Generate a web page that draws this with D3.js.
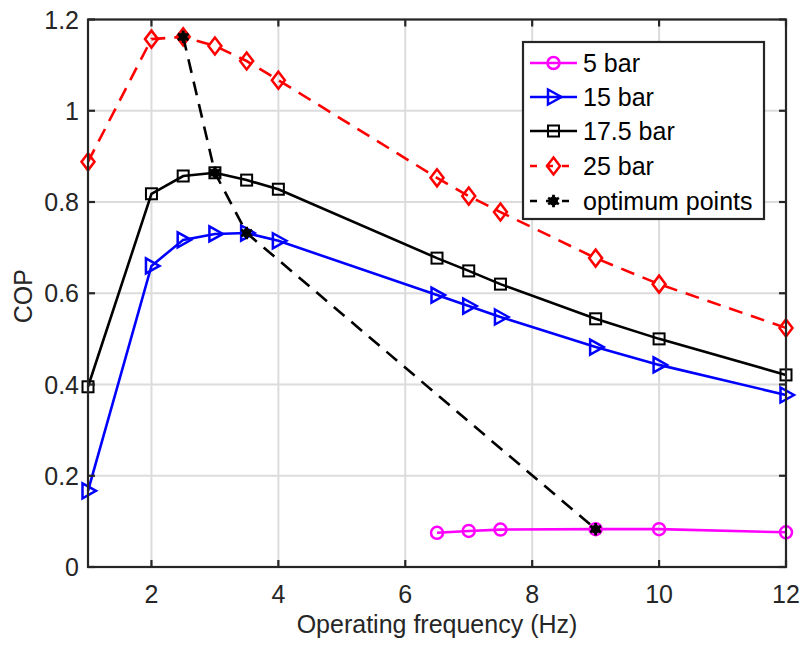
<!DOCTYPE html>
<html><head><meta charset="utf-8">
<script src="https://cdn.jsdelivr.net/npm/d3@7"></script>
<style>body{margin:0;background:#fff;} text{font-family:"Liberation Sans",Arial,sans-serif;}</style>
</head><body><svg id="c" width="803" height="646"></svg>
<script>
const freq = [1, 2, 2.5, 3, 3.5, 4, 6.5, 7, 7.5, 9, 10, 12];
const freq5 = [6.5, 7, 7.5, 9, 10, 12];
const cop5 = [0.075, 0.079, 0.082, 0.083, 0.083, 0.076];
const cop15 = [0.167, 0.660, 0.717, 0.730, 0.732, 0.715, 0.596, 0.572, 0.548, 0.482, 0.443, 0.377];
const cop175 = [0.395, 0.818, 0.857, 0.864, 0.848, 0.828, 0.677, 0.649, 0.620, 0.544, 0.500, 0.421];
const cop25 = [0.888, 1.157, 1.162, 1.142, 1.109, 1.067, 0.853, 0.813, 0.778, 0.677, 0.620, 0.524];
const optFreq = [2.5, 3, 3.5, 9];
const optCop = [1.162, 0.864, 0.732, 0.083];
const xTicks = [2, 4, 6, 8, 10, 12];
const yTicks = [0, 0.2, 0.4, 0.6, 0.8, 1, 1.2];
const seriesNames = ["5 bar", "15 bar", "17.5 bar", "25 bar", "optimum points"];

const L = 88, R = 786, T = 19.5, B = 567;
const x = d3.scaleLinear().domain([1, 12]).range([L, R]);
const y = d3.scaleLinear().domain([0, 1.2]).range([B, T]);
const svg = d3.select("#c");
const axisCol = "#262626";
const FS = 25;

// grid
const g = svg.append("g");
g.selectAll(".gx").data(xTicks).join("line")
  .attr("x1", d => x(d)).attr("x2", d => x(d)).attr("y1", T).attr("y2", B)
  .attr("stroke", "#dcdcdc").attr("stroke-width", 2);
g.selectAll(".gy").data(yTicks).join("line")
  .attr("y1", d => y(d)).attr("y2", d => y(d)).attr("x1", L).attr("x2", R)
  .attr("stroke", "#dcdcdc").attr("stroke-width", 2);

const line = d3.line().x(d => x(d[0])).y(d => y(d[1]));
const zip = (a, b) => a.map((v, i) => [v, b[i]]);

const series = [
  {xs: freq5, ys: cop5, color: "#ff00ff", dash: null, marker: "circle"},
  {xs: freq, ys: cop15, color: "#0000ff", dash: null, marker: "tri"},
  {xs: freq, ys: cop175, color: "#000000", dash: null, marker: "square"},
  {xs: freq, ys: cop25, color: "#ff0000", dash: "14,9", marker: "diamond"},
  {xs: optFreq, ys: optCop, color: "#000000", dash: "14,9", marker: "star"}
];

function drawMarker(sel, type, color) {
  if (type === "circle") {
    sel.append("circle").attr("r", 6).attr("fill", "none").attr("stroke", color).attr("stroke-width", 2.5);
  } else if (type === "tri") {
    sel.append("path").attr("d", "M-5.5,-7.5L8,0L-5.5,7.5Z").attr("fill", "none").attr("stroke", color).attr("stroke-width", 2.5);
  } else if (type === "square") {
    sel.append("rect").attr("x", -5.5).attr("y", -5.5).attr("width", 11).attr("height", 11).attr("fill", "none").attr("stroke", color).attr("stroke-width", 2);
  } else if (type === "diamond") {
    sel.append("path").attr("d", "M0,-8.5L6.5,0L0,8.5L-6.5,0Z").attr("fill", "none").attr("stroke", color).attr("stroke-width", 2.5);
  } else if (type === "star") {
    sel.append("circle").attr("r", 4.5).attr("fill", color);
    sel.append("path").attr("d", d3.symbol().type(d3.symbolAsterisk).size(110)()).attr("stroke", color).attr("stroke-width", 2.8).attr("fill", "none");
  }
}

series.forEach(s => {
  const pts = zip(s.xs, s.ys);
  svg.append("path").datum(pts).attr("d", line).attr("fill", "none")
    .attr("stroke", s.color).attr("stroke-width", 2.6).attr("stroke-dasharray", s.dash);
  const mg = svg.append("g");
  pts.forEach(p => {
    const m = mg.append("g").attr("transform", `translate(${x(p[0])},${y(p[1])})`);
    drawMarker(m, s.marker, s.color);
  });
});

// axes box
const ax = svg.append("g");
ax.append("rect").attr("x", L).attr("y", T).attr("width", R - L).attr("height", B - T)
  .attr("fill", "none").attr("stroke", axisCol).attr("stroke-width", 2.2);
const tl = 7;
xTicks.forEach(t => {
  ax.append("line").attr("x1", x(t)).attr("x2", x(t)).attr("y1", B).attr("y2", B - tl).attr("stroke", axisCol).attr("stroke-width", 2.2);
  ax.append("line").attr("x1", x(t)).attr("x2", x(t)).attr("y1", T).attr("y2", T + tl).attr("stroke", axisCol).attr("stroke-width", 2.2);
  ax.append("text").attr("x", x(t)).attr("y", 603).attr("text-anchor", "middle")
    .attr("font-size", FS).attr("fill", axisCol).text(t);
});
yTicks.forEach(t => {
  ax.append("line").attr("y1", y(t)).attr("y2", y(t)).attr("x1", L).attr("x2", L + tl).attr("stroke", axisCol).attr("stroke-width", 2.2);
  ax.append("line").attr("y1", y(t)).attr("y2", y(t)).attr("x1", R).attr("x2", R - tl).attr("stroke", axisCol).attr("stroke-width", 2.2);
  ax.append("text").attr("x", L - 9).attr("y", y(t) + 9).attr("text-anchor", "end")
    .attr("font-size", FS).attr("fill", axisCol).text(t);
});
ax.append("text").attr("x", (L + R) / 2).attr("y", 633).attr("text-anchor", "middle")
  .attr("font-size", FS).attr("fill", axisCol).text("Operating frequency (Hz)");
ax.append("text").attr("transform", `translate(32,${(T + B) / 2 + 3}) rotate(-90)`).attr("text-anchor", "middle")
  .attr("font-size", FS).attr("fill", axisCol).text("COP");

// legend
const lg = svg.append("g");
lg.append("rect").attr("x", 523).attr("y", 42).attr("width", 241).attr("height", 177)
  .attr("fill", "#fff").attr("stroke", axisCol).attr("stroke-width", 2.2);
const ly = [63, 97, 131, 166, 201];
series.forEach((s, i) => {
  lg.append("line").attr("x1", 530).attr("x2", 577).attr("y1", ly[i]).attr("y2", ly[i])
    .attr("stroke", s.color).attr("stroke-width", 2.6).attr("stroke-dasharray", s.dash ? "7,9" : null);
  const m = lg.append("g").attr("transform", `translate(553.5,${ly[i]})`);
  drawMarker(m, s.marker, s.color);
  lg.append("text").attr("x", 583).attr("y", ly[i] + 9).attr("font-size", FS).attr("fill", "#000").text(seriesNames[i]);
});
</script></body></html>
